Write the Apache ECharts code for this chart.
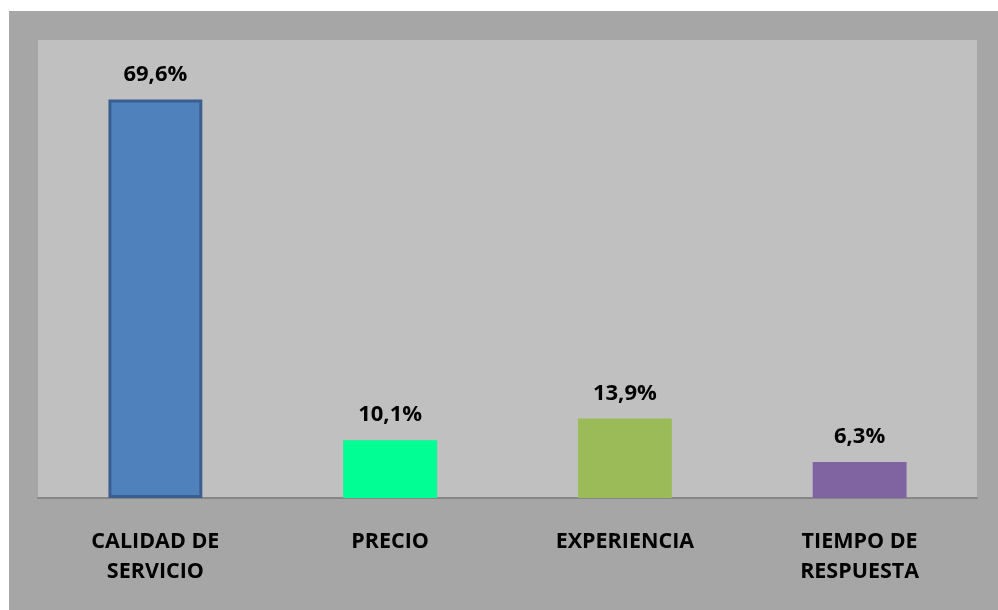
<!DOCTYPE html>
<html>
<head>
<meta charset="utf-8">
<style>
  html, body { margin: 0; padding: 0; background: #ffffff; }
  #chart { width: 998px; height: 610px; }
</style>
<script src="https://cdn.jsdelivr.net/npm/echarts@6/dist/echarts.min.js"></script>
</head>
<body>
<div id="chart"></div>
<script>
// Categories (two-line labels) and percentages per category
const categories = ['CALIDAD DE\nSERVICIO', 'PRECIO', 'EXPERIENCIA', 'TIEMPO DE\nRESPUESTA'];
const values = [69.6, 10.1, 13.9, 6.3];
const barColors = ['#4f81bd', '#00fe94', '#9bbb59', '#8064a2'];

const chart = echarts.init(document.getElementById('chart'), null, { renderer: 'canvas' });

const fontFamily = '"Open Sans", Lato, sans-serif';

chart.setOption({
  backgroundColor: '#ffffff',
  animation: false,
  graphic: [{
    type: 'rect',
    z: -10,
    shape: { x: 9, y: 11, width: 989, height: 599 },
    style: { fill: '#a6a6a6' }
  }],
  grid: {
    left: 38, right: 21, top: 40, bottom: 112,
    show: true,
    backgroundColor: '#c0c0c0',
    borderWidth: 0
  },
  xAxis: {
    type: 'category',
    data: categories,
    axisLine: { show: true, lineStyle: { color: '#868686', width: 2 } },
    axisTick: { show: false },
    axisLabel: {
      color: '#000000',
      fontFamily: fontFamily,
      fontWeight: 'bold',
      fontSize: 21.5,
      lineHeight: 30,
      margin: 29,
      interval: 0
    }
  },
  yAxis: {
    type: 'value',
    min: 0,
    max: 80,
    show: false,
    splitLine: { show: false }
  },
  series: [{
    type: 'bar',
    barWidth: '40%',
    data: values.map((v, i) => ({
      value: v,
      itemStyle: i === 0
        ? { color: barColors[i], borderColor: '#3a5f8f', borderWidth: 3 }
        : { color: barColors[i] }
    })),
    label: {
      show: true,
      position: 'top',
      distance: 14,
      color: '#000000',
      fontFamily: fontFamily,
      fontWeight: 'bold',
      fontSize: 22,
      formatter: p => p.value.toFixed(1).replace('.', ',') + '%'
    }
  }]
});
</script>
</body>
</html>
